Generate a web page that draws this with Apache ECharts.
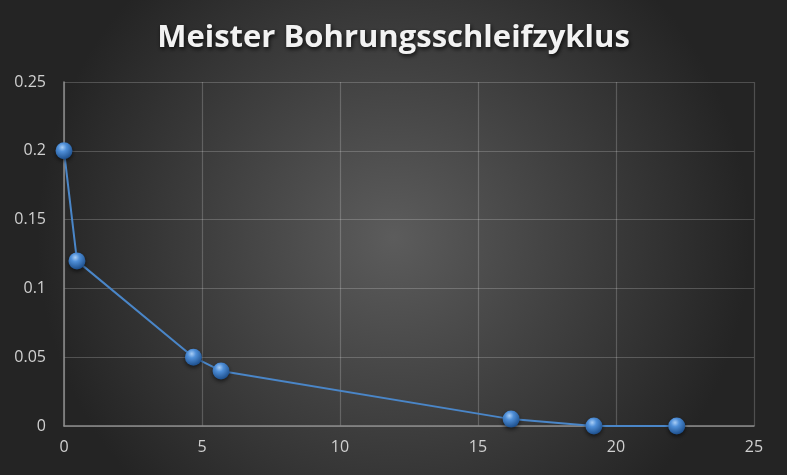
<!DOCTYPE html>
<html><head><meta charset="utf-8">
<script src="https://cdn.jsdelivr.net/npm/echarts@6/dist/echarts.min.js"></script>
<style>html,body{margin:0;padding:0;background:#333;}#c{width:787px;height:475px;}</style>
</head><body><div id="c"></div>
<script>
const titleText = 'Meister Bohrungsschleifzyklus';
const xValues = [0, 0.47, 4.69, 5.69, 16.2, 19.2, 22.2];
const yValues = [0.2, 0.12, 0.05, 0.04, 0.005, 0, 0];

const chart = echarts.init(document.getElementById('c'));
chart.setOption({
  backgroundColor: {
    type: 'radial', x: 0.5, y: 0.5, r: 0.75,
    colorStops: [{offset: 0, color: '#5c5c5c'}, {offset: 1, color: '#242424'}]
  },
  title: {
    text: titleText, left: 'center', top: 18,
    textStyle: {color: '#f2f2f2', fontSize: 31, fontWeight: 'bold', fontFamily: 'Open Sans',
      textShadowColor: 'rgba(0,0,0,0.8)', textShadowBlur: 4, textShadowOffsetX: 1, textShadowOffsetY: 2}
  },
  grid: {left: 64, right: 33, top: 82, bottom: 49},
  xAxis: {
    type: 'value', min: 0, max: 25, interval: 5,
    axisLine: {show: true, lineStyle: {color: '#8c8c8c', width: 1.5}},
    axisTick: {show: false},
    axisLabel: {color: '#d0d0d0', fontSize: 16, margin: 13, fontFamily: 'Open Sans'},
    splitLine: {show: true, lineStyle: {color: 'rgba(255,255,255,0.2)', width: 1.2}}
  },
  yAxis: {
    type: 'value', min: 0, max: 0.25, interval: 0.05,
    axisLine: {show: true, lineStyle: {color: '#8c8c8c', width: 1.5}},
    axisTick: {show: false},
    axisLabel: {color: '#d0d0d0', fontSize: 16, margin: 18, fontFamily: 'Open Sans'},
    splitLine: {show: true, lineStyle: {color: 'rgba(255,255,255,0.2)', width: 1.2}}
  },
  series: [{
    type: 'line',
    data: xValues.map((x, i) => [x, yValues[i]]),
    symbol: 'circle', symbolSize: 17,
    lineStyle: {color: '#4a86c8', width: 2},
    itemStyle: {
      color: {type: 'radial', x: 0.4, y: 0.3, r: 0.7,
        colorStops: [{offset: 0, color: '#a8cdf5'}, {offset: 0.35, color: '#4f8fd8'}, {offset: 1, color: '#1d4f8c'}]},
      shadowColor: 'rgba(0,0,0,0.6)', shadowBlur: 4, shadowOffsetY: 2
    },
    emphasis: {disabled: true},
    animation: false
  }],
  animation: false
});
</script></body></html>
